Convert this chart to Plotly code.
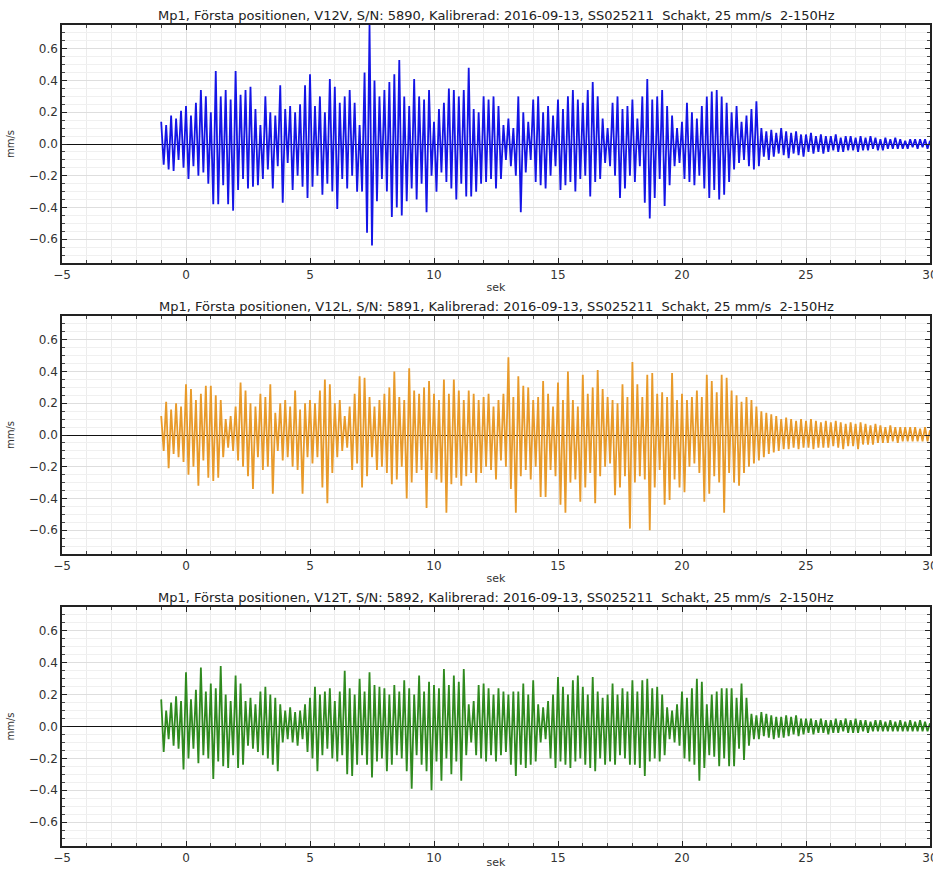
import numpy as np
import plotly.graph_objects as go
from plotly.subplots import make_subplots

# Time of first extremum and spacing between successive extrema (s)
T_START = -1.0
DT = 0.1

# Alternating peak / trough values (hundredths of mm/s), one row per second from -1 s
v12v = [
    14,-13,12,-16,18,-17,16,-10,21,-15,
    24,-22,18,-14,26,-20,34,-18,30,-25,
    20,-38,46,-38,30,-26,34,-38,28,-42,
    46,-29,31,-22,34,-28,36,-27,22,-26,
    12,-22,30,-16,20,-28,18,-14,37,-37,
    22,-12,24,-29,20,-20,25,-27,37,-34,
    44,-27,24,-20,30,-32,20,-25,41,-30,
    36,-41,26,-22,30,-28,34,-20,26,-30,
    12,-30,45,-56,75,-64,40,-36,30,-22,
    34,-30,39,-46,44,-40,53,-45,30,-36,
    24,-28,41,-35,30,-25,28,-43,34,-20,
    14,-30,22,-18,26,-24,35,-28,34,-35,
    30,-25,34,-33,48,-33,22,-30,20,-25,
    30,-24,28,-22,30,-28,24,-22,12,-10,
    16,-14,10,-20,30,-43,20,-18,14,-10,
    28,-24,30,-26,20,-28,24,-20,18,-14,
    28,-29,22,-26,30,-24,34,-30,28,-22,
    26,-20,34,-33,39,-24,30,-22,16,-12,
    10,-14,26,-20,30,-34,22,-28,24,-20,
    28,-24,16,-14,30,-37,41,-47,28,-34,
    30,-22,34,-39,24,-26,18,-14,10,-12,
    14,-22,26,-24,20,-26,16,-20,24,-28,
    30,-34,33,-29,34,-35,30,-32,26,-24,
    20,-16,24,-12,14,-10,18,-14,22,-16,
    27,-14,10,-8,8,-10,9,-8,7,-6,
    10,-7,8,-9,7,-6,8,-7,6,-8,
    6,-5,7,-6,5,-5,6,-6,5,-5,
    5,-4,6,-5,4,-5,5,-4,5,-4,
    4,-5,5,-4,4,-4,5,-3,4,-4,
    3,-4,4,-3,3,-3,4,-3,3,-3,
    2,-3,3,-2,3,-3,3,-2,3,-3,
    2,
]

v12l = [
    12,-10,21,-21,16,-12,20,-14,18,-17,
    32,-25,29,-20,22,-32,26,-16,31,-27,
    31,-29,25,-27,22,-14,10,-8,12,-10,
    18,-16,33,-20,28,-26,20,-34,18,-14,
    26,-22,24,-20,32,-37,14,-10,20,-16,
    22,-14,18,-20,28,-22,16,-37,20,-14,
    22,-18,20,-14,28,-33,35,-43,32,-24,
    20,-14,22,-10,12,-8,18,-22,26,-18,
    37,-33,36,-26,24,-14,18,-22,22,-20,
    26,-24,30,-31,40,-28,24,-20,22,-40,
    42,-30,28,-24,26,-22,30,-46,34,-24,
    26,-28,22,-30,35,-49,26,-31,35,-27,
    28,-32,22,-26,28,-24,26,-30,22,-24,
    24,-20,26,-22,18,-28,22,-16,26,-20,
    49,-34,24,-49,37,-26,31,-22,30,-28,
    22,-20,24,-39,34,-39,26,-22,18,-26,
    33,-44,22,-49,40,-30,22,-28,18,-42,
    38,-33,26,-24,30,-43,41,-26,29,-20,
    24,-18,22,-38,20,-33,32,-26,24,-59,
    46,-30,32,-26,24,-28,38,-60,39,-33,
    26,-22,27,-44,24,-41,39,-28,22,-33,
    26,-36,22,-20,24,-18,28,-24,24,-42,
    38,-37,34,-26,27,-30,38,-49,36,-24,
    28,-30,25,-32,21,-24,24,-20,22,-18,
    18,-16,15,-14,14,-12,13,-11,12,-10,
    10,-9,11,-9,10,-8,9,-9,10,-8,
    9,-8,10,-9,9,-8,8,-8,9,-8,
    8,-7,9,-8,8,-9,7,-7,8,-7,
    7,-9,8,-6,7,-6,6,-6,7,-5,
    6,-5,5,-5,6,-4,5,-5,5,-4,
    5,-4,5,-4,5,-4,4,-4,5,-4,
    3,
]

v12t = [
    17,-16,10,-8,15,-12,19,-14,16,-27,
    34,-20,17,-14,23,-23,37,-18,22,-20,
    27,-33,24,-22,38,-25,20,-26,16,-18,
    32,-26,27,-24,16,-12,18,-14,14,-16,
    22,-18,25,-20,20,-24,18,-28,14,-10,
    10,-8,12,-10,9,-12,10,-8,14,-16,
    18,-20,25,-28,20,-18,22,-14,24,-20,
    16,-22,22,-18,35,-30,24,-31,20,-24,
    30,-18,22,-24,34,-32,26,-22,25,-20,
    24,-28,20,-24,26,-18,22,-20,29,-28,
    24,-39,20,-18,32,-24,22,-28,28,-40,
    26,-22,24,-34,36,-20,26,-30,32,-22,
    28,-34,36,-18,14,-10,16,-18,26,-20,
    27,-22,24,-18,20,-22,24,-18,22,-16,
    20,-24,22,-31,22,-24,27,-26,20,-24,
    29,-22,14,-10,12,-8,16,-20,20,-26,
    31,-22,25,-24,20,-26,29,-22,32,-20,
    25,-24,20,-26,31,-28,22,-20,18,-24,
    20,-22,27,-24,20,-18,24,-20,22,-24,
    29,-24,22,-26,29,-31,30,-22,24,-20,
    25,-22,20,-18,12,-8,10,-10,14,-12,
    22,-20,18,-22,24,-24,30,-34,28,-26,
    14,-18,20,-19,22,-25,24,-20,24,-25,
    24,-25,18,-14,27,-21,18,-12,8,-8,
    7,-8,9,-6,8,-7,7,-8,6,-7,
    6,-7,7,-6,6,-5,7,-6,5,-5,
    5,-4,5,-5,4,-4,5,-4,4,-5,
    4,-4,5,-4,4,-3,5,-4,4,-4,
    5,-4,4,-3,4,-4,3,-3,4,-3,
    4,-3,3,-3,4,-3,3,-3,4,-3,
    3,-3,4,-3,3,-3,4,-3,3,-3,
    2,
]

SP = "\u00a0"
titles = [
    f"Mp1, Första positionen, V12V, S/N: 5890, Kalibrerad: 2016-09-13, SS025211{SP} Schakt, 25 mm/s{SP} 2-150Hz",
    f"Mp1, Första positionen, V12L, S/N: 5891, Kalibrerad: 2016-09-13, SS025211{SP} Schakt, 25 mm/s{SP} 2-150Hz",
    f"Mp1, Första positionen, V12T, S/N: 5892, Kalibrerad: 2016-09-13, SS025211{SP} Schakt, 25 mm/s{SP} 2-150Hz",
]
series = [v12v, v12l, v12t]
colors = ["#1414e6", "#e89a2a", "#2f8a1e"]

x_range = [-5, 30]
y_range = [-0.75, 0.75]
x_label = "sek"
y_label = "mm/s"

W, H = 933, 869
ML, MR, MT, MB = 62, 3, 25, 23
ph = H - MT - MB
# pixel rows (top, bottom) of each panel
panels_px = [(25, 263), (316, 554), (607, 846)]

fig = make_subplots(rows=3, cols=1)
FONT = "DejaVu Sans, Verdana, sans-serif"

for i, (vals, col) in enumerate(zip(series, colors)):
    y = np.array(vals, dtype=float) / 100.0
    t = T_START + DT * np.arange(len(y))
    fig.add_trace(go.Scatter(x=t, y=y, mode="lines",
                             line=dict(color=col, width=1.8),
                             showlegend=False, hoverinfo="x+y"),
                  row=i + 1, col=1)

for i, (top, bot) in enumerate(panels_px):
    d0 = (H - MB - bot) / ph
    d1 = (H - MB - top) / ph
    xa = "xaxis" if i == 0 else f"xaxis{i+1}"
    ya = "yaxis" if i == 0 else f"yaxis{i+1}"
    fig.layout[ya].update(
        domain=[d0, d1], range=y_range, dtick=0.2, tick0=0, tickformat=".1f",
        ticks="inside", ticklen=5, tickwidth=1.3, tickcolor="#222",
        showline=True, linecolor="#222", linewidth=1.5, mirror="allticks",
        showgrid=True, gridcolor="#dedede", gridwidth=1,
        zeroline=True, zerolinecolor="#111", zerolinewidth=1,
        minor=dict(dtick=0.05, ticks="inside", ticklen=3, tickcolor="#444",
                   showgrid=True, gridcolor="#f0f0f0", gridwidth=1),
        title=dict(text=y_label, font=dict(size=10, color="#333", family=FONT), standoff=12),
        tickfont=dict(size=12, color="#333", family=FONT),
        automargin=False, ticklabeloverflow="allow",
    )
    fig.layout[xa].update(
        range=x_range, dtick=5, tick0=0,
        ticks="inside", ticklen=5, tickwidth=1.3, tickcolor="#222",
        showline=True, linecolor="#222", linewidth=1.5, mirror="allticks",
        showgrid=True, gridcolor="#dedede", gridwidth=1, zeroline=False,
        minor=dict(dtick=1, ticks="inside", ticklen=3, tickcolor="#444",
                   showgrid=True, gridcolor="#ececec", gridwidth=1),
        title=dict(text=x_label, font=dict(size=11, color="#333", family=FONT),
                   standoff=0 if i == 2 else 2),
        tickfont=dict(size=12, color="#333", family=FONT),
        automargin=False, ticklabeloverflow="allow",
    )
    fig.add_annotation(text=titles[i], xref="paper", yref="paper", x=0.5, y=d1,
                       xanchor="center", yanchor="bottom", yshift=0, showarrow=False,
                       font=dict(size=13, color="#222", family=FONT))

fig.update_layout(width=W, height=H, margin=dict(l=ML, r=MR, t=MT, b=MB),
                  plot_bgcolor="white", paper_bgcolor="white",
                  font=dict(family=FONT))
fig.write_html("out.html", config={"displayModeBar": False},
               post_script="document.body.style.margin='0';document.body.style.overflow='hidden';")
